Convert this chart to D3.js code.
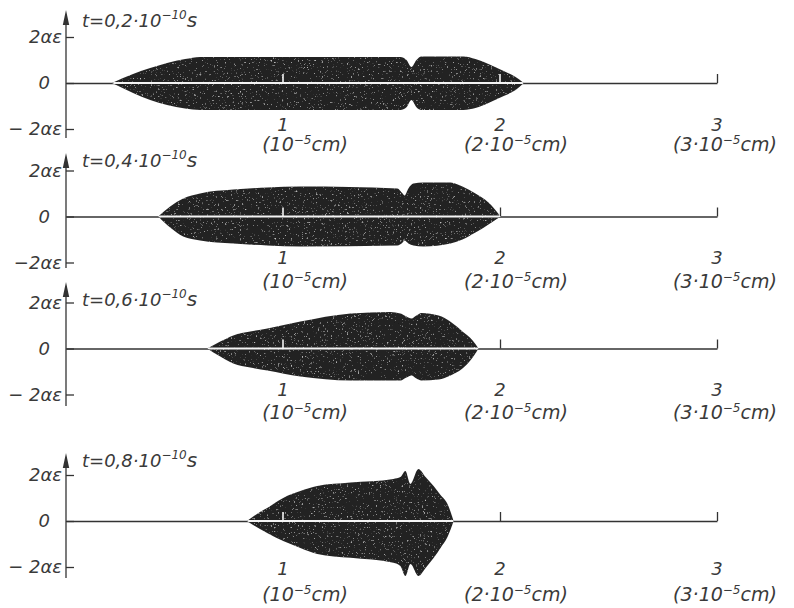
<!DOCTYPE html>
<html>
<head>
<meta charset="utf-8">
<script src="https://cdn.jsdelivr.net/npm/d3@7"></script>
<style>
  body { margin: 0; background: #fff; }
  text { font-family: "DejaVu Sans", "Liberation Sans", sans-serif; font-style: italic; font-weight: 300; fill: #3a3a3a; }
</style>
</head>
<body>
<svg id="chart" width="794" height="608"></svg>
<script>
// Snapshot times (units of 10^-10 s)
const timeLabels = ["0,2", "0,4", "0,6", "0,8"];

// Position axis: ticks in units of 10^-5 cm
const xTicks = [1, 2, 3];
const xTickLabels = ["1", "2", "3"];
const xUnitPrefix = ["(10", "(2·10", "(3·10"];

// Amplitude axis: ticks in units of αε
const yTicks = [2, 0, -2];
const yTickLabels = [["2αε", "0", "− 2αε"], ["2αε", "0", "−2αε"], ["2αε", "0", "− 2αε"], ["2αε", "0", "− 2αε"]];

// Pulse envelopes: position (10^-5 cm), upper and lower half-amplitude (αε)
const envX1   = [0.212, 0.309, 0.388, 0.466, 0.549, 0.618, 0.803, 1.541, 1.569, 1.592, 1.615, 1.638, 1.832, 1.887, 1.947, 2.017, 2.072, 2.109];
const envTop1 = [0, 0.39, 0.65, 0.87, 1.04, 1.13, 1.13, 1.13, 1.00, 0.70, 1.00, 1.15, 1.15, 1.04, 0.83, 0.52, 0.26, 0];
const envBot1 = [0, 0.43, 0.74, 0.96, 1.11, 1.17, 1.17, 1.17, 1.05, 0.74, 1.05, 1.17, 1.17, 1.09, 0.87, 0.57, 0.30, 0];

const envX2   = [0.425, 0.480, 0.540, 0.618, 0.771, 0.928, 1.080, 1.527, 1.551, 1.560, 1.578, 1.601, 1.647, 1.772, 1.827, 1.887, 1.947, 2.003];
const envTop2 = [0, 0.43, 0.78, 1.00, 1.17, 1.26, 1.30, 1.22, 1.00, 0.91, 1.22, 1.43, 1.48, 1.48, 1.30, 1.00, 0.61, 0];
const envBot2 = [0, 0.48, 0.87, 1.04, 1.17, 1.26, 1.30, 1.26, 1.13, 1.04, 1.17, 1.26, 1.30, 1.17, 1.00, 0.70, 0.35, 0];

const envX3   = [0.651, 0.711, 0.771, 0.849, 0.928, 1.080, 1.311, 1.495, 1.541, 1.569, 1.592, 1.615, 1.638, 1.717, 1.772, 1.827, 1.874, 1.901];
const envTop3 = [0, 0.30, 0.57, 0.74, 0.87, 1.17, 1.52, 1.59, 1.52, 1.39, 1.30, 1.43, 1.54, 1.43, 1.16, 0.74, 0.35, 0];
const envBot3 = [0, 0.35, 0.65, 0.83, 0.96, 1.22, 1.39, 1.39, 1.39, 1.26, 1.17, 1.30, 1.39, 1.35, 1.17, 0.87, 0.39, 0];

const envX4   = [0.834, 0.894, 0.927, 1.001, 1.080, 1.158, 1.311, 1.509, 1.541, 1.564, 1.587, 1.624, 1.657, 1.694, 1.726, 1.758, 1.786];
const envTop4 = [0, 0.39, 0.57, 1.00, 1.30, 1.52, 1.67, 1.83, 1.91, 2.17, 1.61, 2.26, 1.91, 1.52, 1.13, 0.74, 0];
const envBot4 = [0, 0.35, 0.52, 0.87, 1.17, 1.43, 1.60, 1.81, 1.96, 2.39, 1.87, 2.39, 2.04, 1.61, 1.17, 0.70, 0];

const envelopes = [
  { x: envX1, top: envTop1, bot: envBot1 },
  { x: envX2, top: envTop2, bot: envBot2 },
  { x: envX3, top: envTop3, bot: envBot3 },
  { x: envX4, top: envTop4, bot: envBot4 }
];

// Panel layout (pixels)
const zeroY      = [83, 216.5, 348.5, 521];
const arrowTopY  = [10, 153, 282, 453];
const axisEndY   = [138, 268, 406, 578];
const titleY     = [27, 167, 306, 467];
const numRowOff  = [48, 47, 47, 54];
const unitRowOff = [68, 71, 70, 80];
const unitDx     = [22, 16, 8];

const ink = "#333";
const svg = d3.select("#chart");

// Speckled texture for the pulse fill
const defs = svg.append("defs");
const grain = defs.append("filter").attr("id", "grain").attr("x", 0).attr("y", 0).attr("width", 1).attr("height", 1);
grain.append("feTurbulence").attr("type", "fractalNoise").attr("baseFrequency", 0.55).attr("numOctaves", 2).attr("seed", 7).attr("result", "noise");
grain.append("feColorMatrix").attr("in", "noise").attr("type", "matrix")
  .attr("values", "0 0 0 0 0.55  0 0 0 0 0.55  0 0 0 0 0.55  4 0 0 0 -2.6").attr("result", "specks");
grain.append("feComposite").attr("in", "specks").attr("in2", "SourceGraphic").attr("operator", "in").attr("result", "clipped");
const merge = grain.append("feMerge");
merge.append("feMergeNode").attr("in", "SourceGraphic");
merge.append("feMergeNode").attr("in", "clipped");

const x = d3.scaleLinear().domain([0, 3]).range([66, 717]);

envelopes.forEach((env, i) => {
  const z = zeroY[i];
  const y = d3.scaleLinear().domain([-2, 2]).range([z + 46, z - 46]);
  const g = svg.append("g");
  const pts = env.x.map((v, k) => ({ x: v, top: env.top[k], bot: env.bot[k] }));

  // Position axis with upward ticks
  const xAxis = d3.axisBottom(x).tickValues(xTicks).tickSize(-9).tickSizeOuter(0).tickFormat("");
  const xg = g.append("g").attr("transform", `translate(0,${z})`).call(xAxis);
  xg.select(".domain").attr("stroke", ink).attr("stroke-width", 1.3);
  xg.selectAll(".tick line").attr("stroke", ink).attr("stroke-width", 1.3);

  // Amplitude axis with ticks pointing right
  const yAxis = d3.axisLeft(y).tickValues(yTicks).tickSize(-8).tickSizeOuter(0).tickPadding(4)
    .tickFormat((d, k) => yTickLabels[i][k]);
  const yg = g.append("g").attr("transform", `translate(${x(0)},0)`).call(yAxis);
  yg.select(".domain").remove();
  yg.selectAll(".tick line").attr("stroke", ink).attr("stroke-width", 1.3);
  yg.selectAll(".tick text").attr("font-size", 18).attr("fill", "#3a3a3a")
    .attr("font-family", null)
    .attr("dx", d => d === 0 ? -12 : 0);
  g.append("line").attr("x1", x(0)).attr("x2", x(0)).attr("y1", arrowTopY[i] + 6).attr("y2", axisEndY[i])
    .attr("stroke", ink).attr("stroke-width", 1.3);
  g.append("path")
    .attr("d", `M${x(0)},${arrowTopY[i]} L${x(0) - 3.2},${arrowTopY[i] + 15} L${x(0) + 3.2},${arrowTopY[i] + 15} Z`)
    .attr("fill", ink);

  // Pulse envelope
  const area = d3.area().curve(d3.curveMonotoneX)
    .x(d => x(d.x)).y0(d => y(-d.bot)).y1(d => y(d.top));
  const clipId = "pulse" + i;
  defs.append("clipPath").attr("id", clipId).append("path").attr("d", area(pts));
  g.append("path").attr("d", area(pts)).attr("fill", "#232323").attr("filter", "url(#grain)");

  // Axis and ticks show through the pulse in white
  const inner = g.append("g").attr("clip-path", `url(#${clipId})`);
  inner.append("line").attr("x1", x(0)).attr("x2", x(3)).attr("y1", z).attr("y2", z)
    .attr("stroke", "#f4f4f4").attr("stroke-width", 1.8);
  inner.selectAll("line.t").data(xTicks).join("line").attr("class", "t")
    .attr("x1", d => x(d)).attr("x2", d => x(d)).attr("y1", z).attr("y2", z - 9)
    .attr("stroke", "#f4f4f4").attr("stroke-width", 1.6);

  // Position labels
  xTicks.forEach((t, k) => {
    g.append("text").attr("x", x(t)).attr("y", z + numRowOff[i]).attr("text-anchor", "middle")
      .attr("font-size", 18).text(xTickLabels[k]);
    const u = g.append("text").attr("x", x(t) + unitDx[k]).attr("y", z + unitRowOff[i])
      .attr("text-anchor", "middle").attr("font-size", 19);
    u.append("tspan").text(xUnitPrefix[k]);
    u.append("tspan").attr("dy", -7).attr("font-size", 12).text("−5");
    u.append("tspan").attr("dy", 7).text("cm)");
  });

  // Time label
  const tt = g.append("text").attr("x", 82).attr("y", titleY[i]).attr("font-size", 18);
  tt.append("tspan").text(`t=${timeLabels[i]}·10`);
  tt.append("tspan").attr("dy", -8).attr("font-size", 12).text("−10");
  tt.append("tspan").attr("dy", 8).attr("font-size", 20).text("s");
});
</script>
</body>
</html>
